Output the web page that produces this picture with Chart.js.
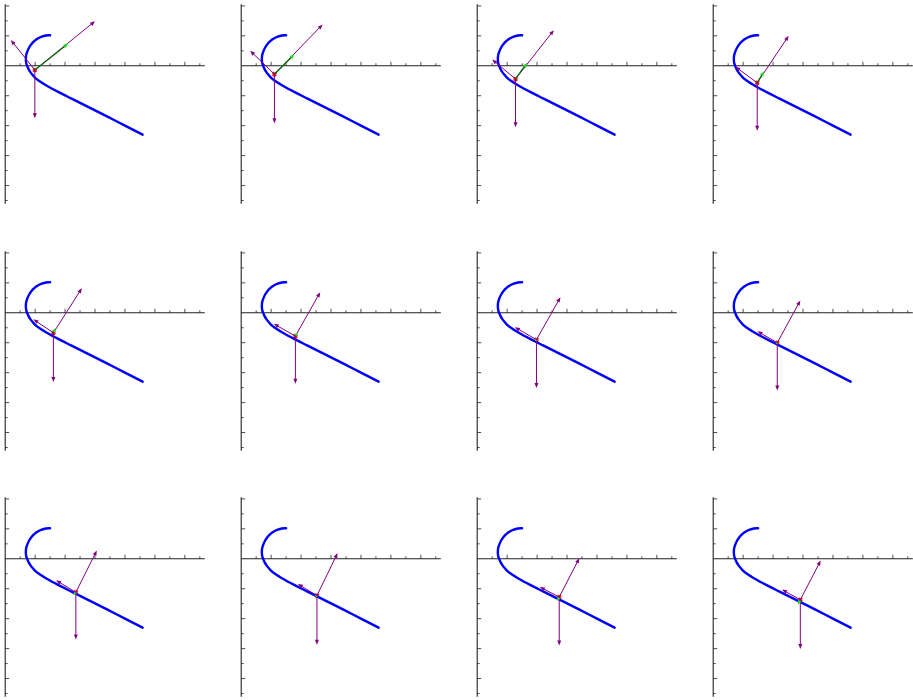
<!DOCTYPE html>
<html>
<head>
<meta charset="utf-8">
<script src="https://cdn.jsdelivr.net/npm/chart.js@4.4.0/dist/chart.umd.min.js"></script>
<style>
    body { margin: 0; background: #fff; }
    #frames { position: relative; width: 913px; height: 700px; overflow: hidden; }
    #frames canvas { position: absolute; }
</style>
</head>
<body>
<div id="frames"></div>
<script>
// WIRE SHAPE (same in every frame)

const wireX = [1.50, 1.36, 1.22, 1.09, 0.98, 0.88, 0.80, 0.74, 0.70, 0.69, 0.70, 0.74, 0.78, 0.84, 0.92, 1.02, 1.14, 1.28, 1.45, 1.65, 1.90, 2.20, 2.80, 3.40, 4.00, 4.59];
const wireY = [1.02, 1.01, 0.97, 0.91, 0.83, 0.73, 0.61, 0.48, 0.35, 0.22, 0.10, -0.02, -0.11, -0.21, -0.31, -0.42, -0.51, -0.60, -0.70, -0.81, -0.94, -1.09, -1.39, -1.69, -2.00, -2.30];

// BEAD POSITION PER FRAME

const beadX = [0.99, 1.11, 1.28, 1.47, 1.61, 1.81, 1.98, 2.14, 2.36, 2.53, 2.74, 2.91];
const beadY = [-0.14, -0.28, -0.44, -0.57, -0.67, -0.78, -0.90, -1.00, -1.12, -1.23, -1.28, -1.37];

// FORCE ARROW TIPS PER FRAME

const weightTipY = [-1.75, -1.92, -2.05, -2.17, -2.31, -2.37, -2.51, -2.60, -2.70, -2.87, -2.90, -3.01];
const normalTipX = [3.00, 2.72, 2.56, 2.52, 2.56, 2.64, 2.78, 2.91, 3.06, 3.22, 3.41, 3.59];
const normalTipY = [1.49, 1.38, 1.19, 1.00, 0.82, 0.69, 0.52, 0.41, 0.28, 0.19, 0.02, -0.06];
const frictionTipX = [0.19, 0.30, 0.50, 0.74, 0.94, 1.09, 1.26, 1.48, 1.70, 1.89, 2.09, 2.30];
const frictionTipY = [0.86, 0.50, 0.21, -0.03, -0.22, -0.37, -0.48, -0.62, -0.72, -0.84, -0.94, -1.03];
const netTipX = [2.11, 1.78, 1.67, 1.70, 1.67, 1.86, 1.93, 2.11, 2.30, 2.48, 2.67, 2.83];
const netTipY = [0.75, 0.39, 0.10, -0.18, -0.51, -0.67, -0.93, -1.04, -1.20, -1.28, -1.40, -1.53];

// AXIS RANGE & TICKS

const xRange = [0, 6.667];
const yRange = [-4.61, 2.057];
const tickStep = 0.5;

// LAYOUT

const PAD = 6;
const PLOT = 200;
const colLeft = [5, 241, 477, 713];
const rowTop = [4, 250.5, 497];

// DRAW AXES (crossing at origin, ticks inside)

const axesPlugin = {
    id: "axes",
    beforeDatasetsDraw(chart) {
        const ctx = chart.ctx;
        const xs = chart.scales.x;
        const ys = chart.scales.y;
        const area = chart.chartArea;
        const x0 = xs.getPixelForValue(0);
        const y0 = ys.getPixelForValue(0);

        ctx.save();
        ctx.strokeStyle = "#222";
        ctx.lineWidth = 1.1;

        ctx.beginPath();
        ctx.moveTo(x0, area.top);
        ctx.lineTo(x0, area.bottom);
        ctx.moveTo(area.left, y0);
        ctx.lineTo(area.right, y0);
        ctx.stroke();

        ctx.lineWidth = 0.8;
        ctx.beginPath();
        for (let v = tickStep; v <= xRange[1]; v += tickStep) {
            const px = xs.getPixelForValue(v);
            const len = Math.abs(v % 1) < 1e-6 ? 4 : 2.5;
            ctx.moveTo(px, y0);
            ctx.lineTo(px, y0 - len);
        }
        for (let v = yRange[0] - (yRange[0] % tickStep); v <= yRange[1]; v += tickStep) {
            if (Math.abs(v) < 1e-6) continue;
            const py = ys.getPixelForValue(v);
            const len = Math.abs(v % 1) < 1e-6 ? 4 : 2.5;
            ctx.moveTo(x0, py);
            ctx.lineTo(x0 + len, py);
        }
        ctx.stroke();
        ctx.restore();
    }
};

// DRAW FORCE ARROWS

function drawArrow(ctx, x1, y1, x2, y2, lineColor, headColor, width) {
    const ang = Math.atan2(y2 - y1, x2 - x1);
    const len = Math.hypot(x2 - x1, y2 - y1);
    const head = Math.min(5, len * 0.8);

    ctx.strokeStyle = lineColor;
    ctx.lineWidth = width;
    ctx.beginPath();
    ctx.moveTo(x1, y1);
    ctx.lineTo(x2 - Math.cos(ang) * head * 0.6, y2 - Math.sin(ang) * head * 0.6);
    ctx.stroke();

    ctx.fillStyle = headColor;
    ctx.beginPath();
    ctx.moveTo(x2, y2);
    ctx.lineTo(x2 - head * Math.cos(ang) + 2 * Math.sin(ang), y2 - head * Math.sin(ang) - 2 * Math.cos(ang));
    ctx.lineTo(x2 - head * Math.cos(ang) - 2 * Math.sin(ang), y2 - head * Math.sin(ang) + 2 * Math.cos(ang));
    ctx.closePath();
    ctx.fill();
}

const arrowsPlugin = {
    id: "arrows",
    afterDatasetDraw(chart, args) {
        if (args.index !== 0) return;
        const i = chart.options.plugins.arrows.frame;
        const ctx = chart.ctx;
        const xs = chart.scales.x;
        const ys = chart.scales.y;
        const bx = xs.getPixelForValue(beadX[i]);
        const by = ys.getPixelForValue(beadY[i]);

        ctx.save();
        drawArrow(ctx, bx, by, bx, ys.getPixelForValue(weightTipY[i]), "#800080", "#800080", 1);
        drawArrow(ctx, bx, by, xs.getPixelForValue(normalTipX[i]), ys.getPixelForValue(normalTipY[i]), "#800080", "#800080", 1);
        drawArrow(ctx, bx, by, xs.getPixelForValue(frictionTipX[i]), ys.getPixelForValue(frictionTipY[i]), "#800080", "#800080", 1);
        drawArrow(ctx, bx, by, xs.getPixelForValue(netTipX[i]), ys.getPixelForValue(netTipY[i]), "#0b6b0b", "#22dd22", 1.3);
        ctx.restore();
    }
};

// BUILD FRAMES

const frames = document.getElementById("frames");
const wirePoints = wireX.map((x, k) => ({ x, y: wireY[k] }));

for (let i = 0; i < 12; i++) {
    const canvas = document.createElement("canvas");
    canvas.width = PLOT + 2 * PAD;
    canvas.height = PLOT + 2 * PAD;
    canvas.style.left = (colLeft[i % 4] - PAD) + "px";
    canvas.style.top = (rowTop[Math.floor(i / 4)] - PAD) + "px";
    frames.appendChild(canvas);

    new Chart(canvas, {
        type: "scatter",
        data: {
            datasets: [
                {
                    data: wirePoints,
                    showLine: true,
                    borderColor: "#0000ff",
                    borderWidth: 2.4,
                    borderCapStyle: "round",
                    pointRadius: 0,
                    tension: 0.4,
                    clip: false
                },
                {
                    data: [{ x: beadX[i], y: beadY[i] }],
                    pointStyle: "crossRot",
                    pointRadius: 2.5,
                    borderColor: "#ff1a1a",
                    borderWidth: 2.2,
                    clip: false
                }
            ]
        },
        options: {
            responsive: false,
            animation: false,
            events: [],
            layout: { padding: PAD },
            scales: {
                x: { display: false, min: xRange[0], max: xRange[1] },
                y: { display: false, min: yRange[0], max: yRange[1] }
            },
            plugins: {
                legend: { display: false },
                tooltip: { enabled: false },
                arrows: { frame: i }
            }
        },
        plugins: [axesPlugin, arrowsPlugin]
    });
}
</script>
</body>
</html>
